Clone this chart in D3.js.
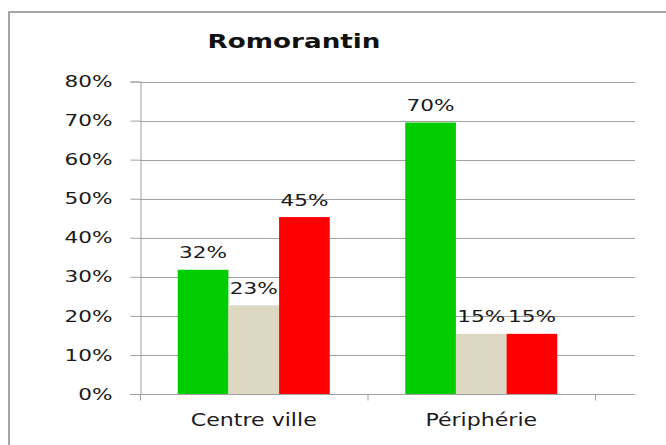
<!DOCTYPE html>
<html>
<head>
    <meta charset="utf-8">
    <style>
        body {
            margin: 0;
            background-color: #fff;
            font-family: "DejaVu Sans", Verdana, sans-serif;
        }

        .grid line {
            stroke: #a0a0a0;
            stroke-width: 1px;
        }

        .axis text {
            fill: #1a1a1a;
        }

        .bar-label {
            font-size: 16px;
            fill: #1a1a1a;
            text-anchor: middle;
        }
    </style>
</head>
<body>
    <div id="chart"></div>

    <script src="https://d3js.org/d3.v7.min.js"></script>
    <script>
        var categories = ["Centre ville", "Périphérie"];
        var seriesNames = ["Vert", "Beige", "Rouge"];
        var seriesColors = ["#00cc00", "#ddd8c2", "#ff0000"];
        var greenValues = [0.318, 0.695];
        var beigeValues = [0.227, 0.154];
        var redValues = [0.453, 0.154];
        var yTicks = [0, 0.1, 0.2, 0.3, 0.4, 0.5, 0.6, 0.7, 0.8];

        var series = [greenValues, beigeValues, redValues];
        var pct = d3.format(".0%");
        var stretch = 1.35; // le texte de l'image est étiré en largeur

        var svg = d3.select("#chart").append("svg")
            .attr("width", 666)
            .attr("height", 445);

        // cadre extérieur
        svg.append("rect")
            .attr("x", 9).attr("y", 12)
            .attr("width", 680).attr("height", 460)
            .attr("fill", "none")
            .attr("stroke", "#a6a6a6")
            .attr("stroke-width", 2);

        svg.append("text")
            .attr("transform", "translate(294,48) scale(1.31,1)")
            .attr("text-anchor", "middle")
            .style("font-size", "20px")
            .style("font-weight", "bold")
            .style("fill", "#111")
            .text("Romorantin");

        var plotLeft = 140, plotRight = 595, gridRight = 635, plotTop = 81.5, plotBottom = 394;

        var y = d3.scaleLinear().domain([0, 0.8]).range([plotBottom, plotTop]);
        var x0 = d3.scaleBand().domain(categories).range([plotLeft, plotRight]).paddingInner(0).paddingOuter(0);
        var x1 = d3.scaleBand().domain(seriesNames).range([0, x0.bandwidth()]).paddingOuter(0.745).paddingInner(0);

        // grille
        svg.append("g").attr("class", "grid")
            .selectAll("line")
            .data(yTicks.slice(1))
            .enter().append("line")
            .attr("x1", plotLeft).attr("x2", gridRight)
            .attr("y1", function(d) { return Math.round(y(d)) + 0.5; })
            .attr("y2", function(d) { return Math.round(y(d)) + 0.5; });

        // axe Y
        var yAxis = svg.append("g").attr("class", "axis")
            .attr("transform", "translate(" + (plotLeft + 0.5) + ",0)")
            .call(d3.axisLeft(y).tickValues(yTicks).tickFormat(pct).tickSizeOuter(0).tickSize(10));
        yAxis.select(".domain").attr("stroke", "#a0a0a0");
        yAxis.selectAll(".tick line").attr("stroke", "#a0a0a0");
        yAxis.selectAll(".tick text")
            .attr("x", null)
            .attr("transform", "translate(-28,0) scale(" + stretch + ",1)")
            .style("font-size", "16px")
            .style("font-family", "'DejaVu Sans', sans-serif");

        // barres
        var groups = svg.append("g").selectAll("g")
            .data(categories)
            .enter().append("g")
            .attr("transform", function(d) { return "translate(" + x0(d) + ",0)"; });

        groups.selectAll("rect")
            .data(function(d, i) { return series.map(function(s, k) { return {name: seriesNames[k], value: s[i], color: seriesColors[k]}; }); })
            .enter().append("rect")
            .attr("x", function(d) { return x1(d.name); })
            .attr("width", x1.bandwidth())
            .attr("y", function(d) { return y(d.value); })
            .attr("height", function(d) { return plotBottom - y(d.value); })
            .attr("fill", function(d) { return d.color; });

        groups.selectAll("text")
            .data(function(d, i) { return series.map(function(s, k) { return {name: seriesNames[k], value: s[i]}; }); })
            .enter().append("text")
            .attr("class", "bar-label")
            .attr("transform", function(d) {
                return "translate(" + (x1(d.name) + x1.bandwidth() / 2) + "," + (y(d.value) - 11.5) + ") scale(" + stretch + ",1)";
            })
            .text(function(d) { return pct(d.value); });

        // axe X
        var xAxis = svg.append("g").attr("class", "axis")
            .attr("transform", "translate(0," + (plotBottom + 0.5) + ")");
        xAxis.append("line")
            .attr("x1", plotLeft - 10).attr("x2", gridRight)
            .attr("stroke", "#a0a0a0");
        xAxis.selectAll("line.tk")
            .data([plotLeft, x0(categories[1]), plotRight])
            .enter().append("line")
            .attr("class", "tk")
            .attr("x1", function(d) { return d + 0.5; }).attr("x2", function(d) { return d + 0.5; })
            .attr("y1", 0).attr("y2", 6)
            .attr("stroke", "#a0a0a0");
        xAxis.selectAll("text")
            .data(categories)
            .enter().append("text")
            .attr("transform", function(d) { return "translate(" + (x0(d) + x0.bandwidth() / 2) + ",31.5) scale(1.3,1)"; })
            .attr("text-anchor", "middle")
            .style("font-size", "17px")
            .text(function(d) { return d; });
    </script>
</body>
</html>
